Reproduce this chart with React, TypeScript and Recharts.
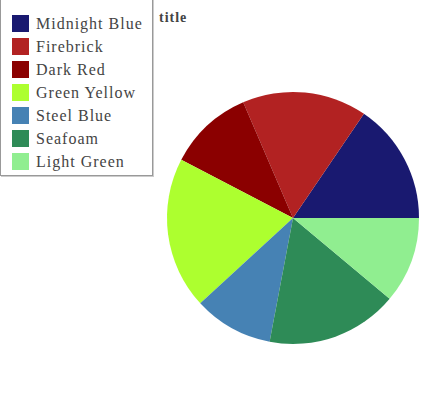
import React from "react";
import { PieChart, Pie, Cell } from "recharts";

const names = ["Midnight Blue", "Firebrick", "Dark Red", "Green Yellow", "Steel Blue", "Seafoam", "Light Green"];
const values = [15.5, 16.0, 10.9, 19.5, 10.2, 16.9, 11.1];
const colors = ["#191970", "#b22222", "#8b0000", "#adff2f", "#4682b4", "#2e8b57", "#90ee90"];

const data = names.map((name, i) => ({ name, value: values[i] }));

const FONT = "'Liberation Serif', serif";

function LegendBox() {
  return (
    <div
      style={{
        position: "absolute",
        left: 0,
        top: -1,
        width: 153,
        height: 177,
        boxSizing: "border-box",
        border: "1px solid #999",
        boxShadow: "1px 1px 0 #ccc",
        background: "#fff",
        paddingTop: 12,
        paddingLeft: 11,
        fontFamily: FONT,
        fontSize: 16,
        letterSpacing: 1,
        color: "#444",
      }}
    >
      {names.map((n, i) => (
        <div key={n} style={{ display: "flex", alignItems: "center", height: 23 }}>
          <span style={{ width: 17, height: 17, background: colors[i], display: "inline-block", marginRight: 7 }} />
          <span style={{ lineHeight: "17px", whiteSpace: "nowrap" }}>{n}</span>
        </div>
      ))}
    </div>
  );
}

export default function App() {
  return (
    <div style={{ position: "absolute", left: 0, top: 0, width: 427, height: 400, background: "#fff" }}>
      <PieChart width={427} height={400}>
        <text x={159} y={22} fontFamily={FONT} fontWeight="bold" fontSize={14} letterSpacing={1} fill="#444">
          title
        </text>
        <Pie
          data={data}
          dataKey="value"
          nameKey="name"
          cx={288}
          cy={213}
          outerRadius={126}
          startAngle={0}
          endAngle={360}
          stroke="none"
          isAnimationActive={false}
        >
          {data.map((_, i) => (
            <Cell key={i} fill={colors[i]} />
          ))}
        </Pie>
      </PieChart>
      <LegendBox />
    </div>
  );
}
